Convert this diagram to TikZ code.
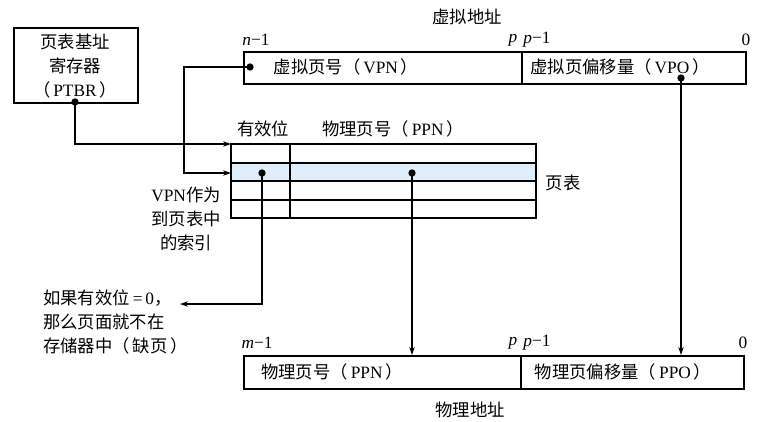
\documentclass[tikz,border=0pt]{standalone}
\usepackage{fontspec}
\setmainfont{Liberation Serif}
\newfontfamily\cjk{Noto Sans CJK SC}
\usetikzlibrary{arrows.meta}
\newcommand{\zh}[1]{{\cjk #1}}
\definecolor{rowblue}{RGB}{224,237,250}
\begin{document}
\begin{tikzpicture}[x=0.75pt,y=-0.75pt,
  font=\fontsize{13}{18}\selectfont,
  box/.style={draw, line width=1.4pt, inner sep=0pt, anchor=north west},
  conn/.style={line width=0.9pt, -{Stealth[length=6pt,width=4pt]}},
  dotc/.style={circle, fill, inner sep=0pt, minimum size=5.5pt},
  lbl/.style={inner sep=0pt},
  tline/.style={line width=1.2pt}]
\useasboundingbox (0,0) rectangle (759,421);

% PTBR box
\node[box, minimum width=93pt, minimum height=56.25pt] (ptbr) at (13,27) {};
\node[lbl, align=center] (ptbrtxt) at (75,66) {\zh{页表基址}\\\zh{寄存器}\\\zh{（}\,PTBR\,\zh{）}};

% virtual address
\node[lbl] (vatitle) at (467,17) {\zh{虚拟地址}};
\node[box, minimum width=208.5pt, minimum height=24pt] (vpn) at (243,51) {};
\node[box, minimum width=168pt, minimum height=24pt] (vpo) at (521,51) {};
\node[lbl] (vpntxt) at (346,67) {\zh{虚拟页号（}\,VPN\,\zh{）}};
\node[lbl] (vpotxt) at (620,67) {\zh{虚拟页偏移量（}\,VPO\,\zh{）}};
\node[lbl] (vn1) at (256,40) {\textit{n}−1};
\node[lbl] (vp) at (513,40) {\textit{p}};
\node[lbl] (vp1) at (537,40) {\textit{p}−1};
\node[lbl] (v0) at (746,40) {0};

% page table
\fill[rowblue] (231,163) rectangle (536,181);
\draw[tline] (231,144) rectangle (536,218);
\draw[tline] (231,163) -- (536,163);
\draw[tline] (231,181) -- (536,181);
\draw[tline] (231,200) -- (536,200);
\draw[tline] (290,144) -- (290,218);
\coordinate (ttop) at (231,144);
\coordinate (trow) at (231,173);
\node[lbl] (validhdr) at (263,129) {\zh{有效位}};
\node[lbl] (ppnhdr) at (393,129) {\zh{物理页号（}\,PPN\,\zh{）}};
\node[lbl] (pt) at (563,183) {\zh{页表}};
\node[lbl, align=center] (vpnidx) at (186,219) {VPN\zh{作为}\\\zh{到页表中}\\\zh{的索引}};
\node[lbl, align=left, anchor=west] (fault) at (43,322) {\zh{如果有效位}\,=\,0\zh{，}\\\zh{那么页面就不在}\\\zh{存储器中（}\,\zh{缺页}\,\zh{）}};

% physical address
\node[box, minimum width=207.75pt, minimum height=24.75pt] (ppn) at (243,355) {};
\node[box, minimum width=167.25pt, minimum height=24.75pt] (ppo) at (520,355) {};
\node[lbl] (ppntxt) at (332,372) {\zh{物理页号（}\,PPN\,\zh{）}};
\node[lbl] (ppotxt) at (623,372) {\zh{物理页偏移量（}\,PPO\,\zh{）}};
\node[lbl] (pm1) at (257,343) {\textit{m}−1};
\node[lbl] (pp) at (513,343) {\textit{p}};
\node[lbl] (pp1) at (537,343) {\textit{p}−1};
\node[lbl] (p0) at (743,343) {0};
\node[lbl] (patitle) at (470,410) {\zh{物理地址}};

% dots
\node[dotc] (ptbrdot) at (75,102) {};
\node[dotc] (vpndot) at (250,67) {};
\node[dotc] (validdot) at (262,173) {};
\node[dotc] (ppndot) at (412,173) {};
\node[dotc] (vpodot) at (681,78) {};

% connectors
\coordinate (vbend) at (184,67);
\coordinate (fbend) at (262,304);
\coordinate (fend) at (180,304);
\coordinate (ppntop) at (412,355);
\coordinate (ppotop) at (681,355);
\draw[conn] (ptbrdot.center) |- (ttop);
\draw[conn] (vpndot.center) -- (vbend) |- (trow);
\draw[conn] (validdot.center) -- (fbend) -- (fend);
\draw[conn] (ppndot.center) -- (ppntop);
\draw[conn] (vpodot.center) -- (ppotop);
\end{tikzpicture}
\end{document}
